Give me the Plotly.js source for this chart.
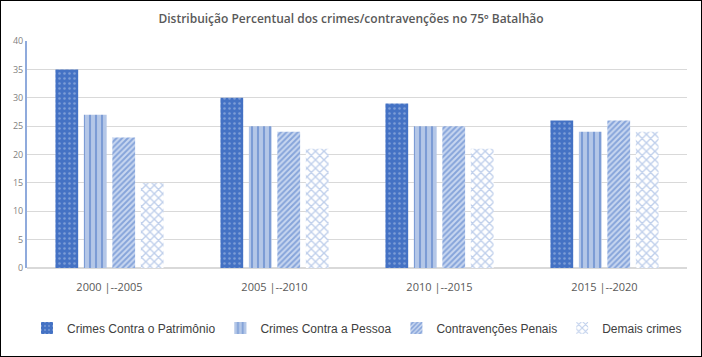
<!DOCTYPE html>
<html><head><meta charset="utf-8">
<script src="https://cdn.plot.ly/plotly-3.0.1.min.js"></script>
<style>
html,body{margin:0;padding:0;background:#fff;}
#wrap{position:absolute;left:0;top:0;width:700px;height:355px;border:1px solid #000;}
#chart{position:absolute;left:-1px;top:-1px;width:702px;height:357px;}
</style></head>
<body><div id="wrap"><div id="chart"></div></div>
<script>
const categories = ["2000 |--2005", "2005 |--2010", "2010 |--2015", "2015 |--2020"];
const seriesNames = ["Crimes Contra o Patrimônio", "Crimes Contra a Pessoa", "Contravenções Penais", "Demais crimes"];
const patrimonio = [35, 30, 29, 26];
const pessoa = [27, 25, 25, 24];
const contravencoes = [23, 24, 25, 26];
const demais = [15, 21, 21, 24];
const yTicks = [0, 5, 10, 15, 20, 25, 30, 35, 40];

const values = [patrimonio, pessoa, contravencoes, demais];
const patterns = [
  {shape:".", fgcolor:"#B4C7E7", bgcolor:"#4472C4", size:5, solidity:0.2, fillmode:"overlay"},
  {shape:"|", fgcolor:"#4472C4", bgcolor:"#B4C7E7", size:6, solidity:0.35, fillmode:"overlay"},
  {shape:"/", fgcolor:"#4472C4", bgcolor:"#C9D7F0", size:4, solidity:0.5, fillmode:"overlay"},
  {shape:"x", fgcolor:"#7F9FD8", bgcolor:"#ffffff", size:6, solidity:0.4, fillmode:"overlay"}
];
const traces = seriesNames.map((n,i)=>({
  type:"bar", name:n, x:categories, y:values[i],
  marker:{color:patterns[i].bgcolor, pattern:patterns[i], line:{width:0}},
  hoverinfo:"none"
}));

const layout = {
  width:702, height:357,
  margin:{l:27, r:15, t:41, b:89},
  paper_bgcolor:"rgba(0,0,0,0)", plot_bgcolor:"#fff",
  font:{family:"Liberation Sans, sans-serif", color:"#595959"},
  title:{text:"Distribuição Percentual dos crimes/contravenções no 75º Batalhão", x:0.5, xanchor:"center", y:0.947, yanchor:"middle",
    font:{family:"Open Sans, sans-serif", size:12, weight:600, color:"#595959"}},
  barmode:"group", bargap:0.31, bargroupgap:0.2,
  xaxis:{tickfont:{size:11, color:"#595959", family:"Open Sans, sans-serif"}, showline:false,
    ticks:"outside", ticklen:9, tickcolor:"rgba(0,0,0,0)", showgrid:false, zeroline:false},
  yaxis:{range:[0,40], tickvals:yTicks, ticktext:yTicks.map(String), showgrid:true, gridcolor:"#D9D9D9", gridwidth:1,
    zeroline:true, zerolinecolor:"#D9D9D9", zerolinewidth:2,
    showline:true, linecolor:"#8FAADC", linewidth:2, ticks:"", ticklen:0,
    tickfont:{size:9, color:"#7F7F7F", family:"Open Sans, sans-serif"}},
  showlegend:true,
  legend:{orientation:"h", x:0.5, xanchor:"center", y:-0.2, yanchor:"top",
    font:{size:12, color:"#404040", family:"Liberation Sans, sans-serif"}, itemwidth:30, traceorder:"normal", tracegroupgap:0}
};
Plotly.newPlot("chart", traces, layout, {displayModeBar:false, staticPlot:true});
</script>
</body></html>
